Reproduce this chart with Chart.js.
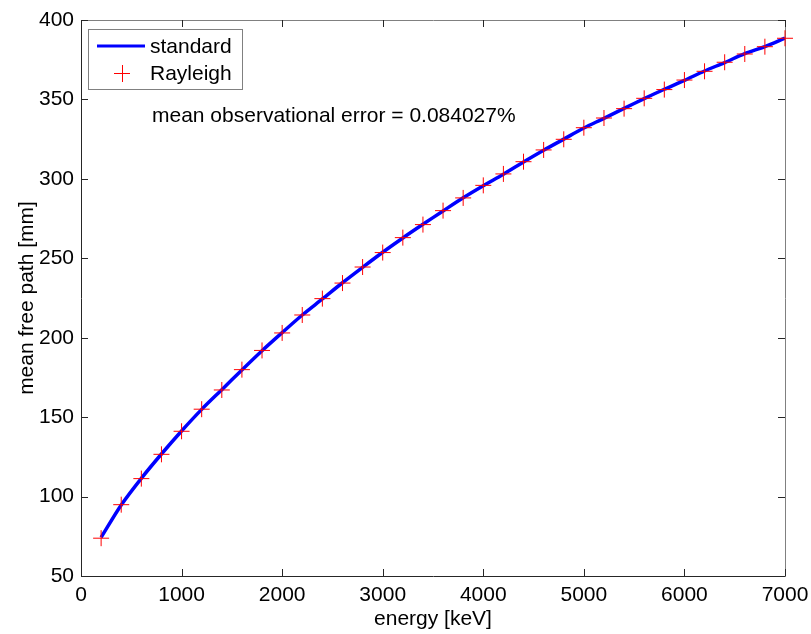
<!DOCTYPE html>
<html>
<head>
<meta charset="utf-8">
<script src="https://cdn.jsdelivr.net/npm/chart.js@4.4.1/dist/chart.umd.min.js"></script>
<style>
  html, body { margin: 0; padding: 0; background: #fff; }
  #wrap { width: 811px; height: 634px; }
</style>
</head>
<body>
<div id="wrap"><canvas id="c"></canvas></div>
<script>
// energy [keV] of each sample
var energy = [200, 400, 600, 800, 1000, 1200, 1400, 1600, 1800, 2000,
              2200, 2400, 2600, 2800, 3000, 3200, 3400, 3600, 3800, 4000,
              4200, 4400, 4600, 4800, 5000, 5200, 5400, 5600, 5800, 6000,
              6200, 6400, 6600, 6800, 7000];
// mean free path [mm], standard curve
var standard = [74.3, 94.7, 111.5, 126.8, 141.3, 154.9, 167.3, 179.7, 191.8, 203.2,
                214.3, 224.4, 234.6, 244.3, 253.8, 262.8, 271.4, 279.8, 288.1, 295.7,
                302.9, 310.6, 318.0, 325.0, 332.0, 338.1, 344.4, 350.5, 356.4, 362.0,
                367.9, 373.2, 378.8, 383.3, 388.6];
// mean free path [mm], Rayleigh points
var rayleigh = [73.8, 94.9, 111.3, 126.6, 141.1, 155.0, 167.1, 179.9, 192.0, 203.0,
                214.3, 224.6, 234.4, 244.5, 253.6, 263.0, 271.2, 280.0, 288.0, 295.9,
                303.1, 310.8, 318.2, 324.9, 332.2, 338.3, 344.2, 350.7, 356.2, 362.2,
                367.7, 373.4, 378.6, 383.2, 388.5];
var xTicks = [0, 1000, 2000, 3000, 4000, 5000, 6000, 7000];
var yTicks = [50, 100, 150, 200, 250, 300, 350, 400];
var errorText = 'mean observational error = 0.084027%';

var FONT = 'Arial, "Liberation Sans", sans-serif';

function pts(ys) {
    return energy.map(function (e, i) { return { x: e, y: ys[i] }; });
}

// MATLAB-like box with inward ticks on all four sides
var boxPlugin = {
    id: 'box',
    beforeDatasetsDraw: function (chart) {
        var ctx = chart.ctx, a = chart.chartArea;
        var xs = chart.scales.x, ys = chart.scales.y, tl = 7;
        ctx.save();
        ctx.lineWidth = 1;
        ctx.strokeStyle = '#808080';
        ctx.beginPath();
        ctx.moveTo(a.left + 0.5, a.top + 0.5);
        ctx.lineTo(a.right + 0.5, a.top + 0.5);
        ctx.lineTo(a.right + 0.5, a.bottom + 0.5);
        ctx.stroke();
        ctx.strokeStyle = '#262626';
        ctx.beginPath();
        ctx.moveTo(a.left + 0.5, a.top + 0.5);
        ctx.lineTo(a.left + 0.5, a.bottom + 0.5);
        ctx.lineTo(a.right + 0.5, a.bottom + 0.5);
        ctx.stroke();
        ctx.beginPath();
        xTicks.forEach(function (v) {
            var px = Math.round(xs.getPixelForValue(v)) + 0.5;
            ctx.moveTo(px, a.bottom); ctx.lineTo(px, a.bottom - tl);
            ctx.moveTo(px, a.top); ctx.lineTo(px, a.top + tl);
        });
        yTicks.forEach(function (v) {
            var py = Math.round(ys.getPixelForValue(v)) + 0.5;
            ctx.moveTo(a.left, py); ctx.lineTo(a.left + tl, py);
            ctx.moveTo(a.right, py); ctx.lineTo(a.right - tl, py);
        });
        ctx.stroke();
        ctx.restore();
    },
    afterDatasetsDraw: function (chart) {
        var ctx = chart.ctx;
        ctx.save();
        // legend box
        ctx.fillStyle = '#fff';
        ctx.fillRect(88, 29, 154, 60);
        ctx.strokeStyle = '#808080';
        ctx.lineWidth = 1;
        ctx.strokeRect(88.5, 29.5, 154, 60);
        ctx.strokeStyle = '#0000ff';
        ctx.lineWidth = 3;
        ctx.beginPath();
        ctx.moveTo(97, 46); ctx.lineTo(145, 46);
        ctx.stroke();
        ctx.strokeStyle = '#ff0000';
        ctx.lineWidth = 1;
        ctx.beginPath();
        ctx.moveTo(114, 73.5); ctx.lineTo(130, 73.5);
        ctx.moveTo(122.5, 65); ctx.lineTo(122.5, 82);
        ctx.stroke();
        ctx.fillStyle = '#000';
        ctx.font = '21px ' + FONT;
        ctx.textBaseline = 'middle';
        ctx.textAlign = 'left';
        ctx.fillText(chart.data.datasets[1].label, 150, 47);
        ctx.fillText(chart.data.datasets[0].label, 150, 74);
        ctx.fillText(errorText, 152, 116);
        ctx.restore();
    }
};

new Chart(document.getElementById('c'), {
    data: {
        datasets: [{
            type: 'scatter',
            label: 'Rayleigh',
            data: pts(rayleigh),
            pointStyle: 'cross',
            pointRadius: 8,
            pointHoverRadius: 8,
            borderColor: '#ff0000',
            backgroundColor: '#ff0000',
            borderWidth: 1,
            clip: false
        }, {
            type: 'line',
            label: 'standard',
            data: pts(standard),
            borderColor: '#0000ff',
            borderWidth: 3.5,
            pointRadius: 0,
            tension: 0.3,
            fill: false
        }]
    },
    options: {
        responsive: true,
        maintainAspectRatio: false,
        animation: false,
        events: [],
        layout: { padding: { left: 0, top: 20, right: 26, bottom: 0 } },
        plugins: { legend: { display: false }, tooltip: { enabled: false } },
        scales: {
            x: {
                type: 'linear',
                min: 0, max: 7000,
                afterBuildTicks: function (s) { s.ticks = xTicks.map(function (v) { return { value: v }; }); },
                afterFit: function (s) { s.height = 58; s.paddingLeft = 0; s.paddingRight = 0; },
                grid: { display: false, drawTicks: false },
                border: { display: false },
                ticks: { color: '#000', padding: 7, maxRotation: 0, font: { family: FONT, size: 21 },
                         callback: function (v) { return String(v); } },
                title: { display: true, text: 'energy [keV]', color: '#000',
                         font: { family: FONT, size: 21, lineHeight: 1 }, padding: { top: 0, bottom: 4 } }
            },
            y: {
                type: 'linear',
                min: 50, max: 400,
                afterBuildTicks: function (s) { s.ticks = yTicks.map(function (v) { return { value: v }; }); },
                afterFit: function (s) { s.width = 81; s.paddingTop = 0; s.paddingBottom = 0; },
                grid: { display: false, drawTicks: false },
                border: { display: false },
                ticks: { color: '#000', padding: 7, font: { family: FONT, size: 21 },
                         callback: function (v) { return String(v); } },
                title: { display: true, text: 'mean free path [mm]', color: '#000',
                         font: { family: FONT, size: 21, lineHeight: 1 }, padding: { top: 17, bottom: 0 } }
            }
        }
    },
    plugins: [boxPlugin]
});
</script>
</body>
</html>
